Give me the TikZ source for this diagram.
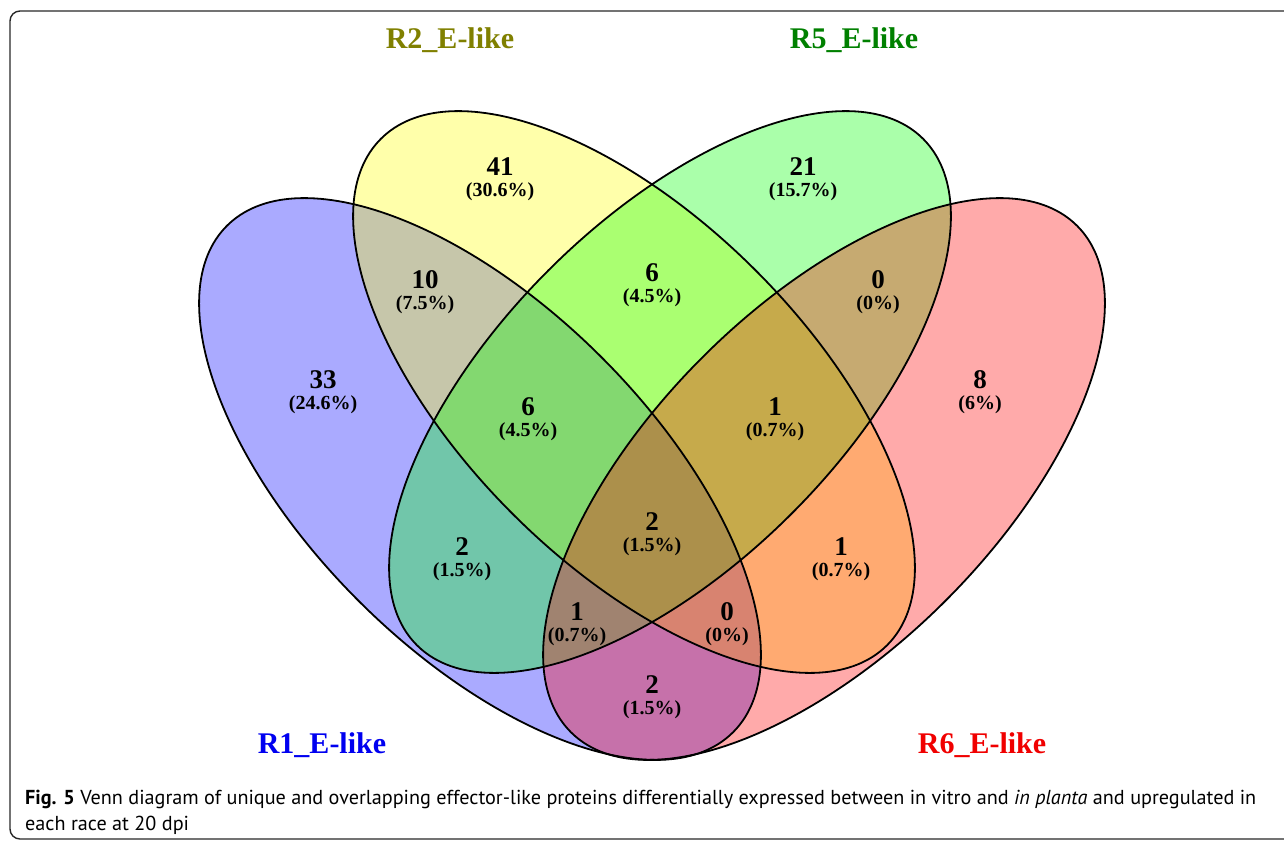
\documentclass[tikz,border=0pt]{standalone}
\usepackage{fontspec}
\setmainfont{Liberation Serif}
\newfontfamily\capfont{PT Sans}
\usepackage{xcolor}
\usetikzlibrary{positioning}

\definecolor{R1fill}{RGB}{0,0,255}
\definecolor{R2fill}{RGB}{255,255,0}
\definecolor{R5fill}{RGB}{0,255,0}
\definecolor{R6fill}{RGB}{255,0,0}
\definecolor{R1title}{RGB}{0,0,240}
\definecolor{R2title}{RGB}{128,128,0}
\definecolor{R5title}{RGB}{0,128,0}
\definecolor{R6title}{RGB}{240,0,0}
\definecolor{framegray}{RGB}{40,40,40}

\begin{document}
\begin{tikzpicture}[x=1pt,y=-1pt,
    vset/.style={fill opacity=0.333},
    vline/.style={draw=black,line width=1.8pt},
    cnt/.style={anchor=base,inner sep=0pt,font=\fontsize{27}{27}\selectfont\bfseries},
    pct/.style={anchor=base,inner sep=0pt,font=\fontsize{20}{20}\selectfont\bfseries},
    settitle/.style={anchor=base,inner sep=0pt,font=\fontsize{30}{30}\selectfont\bfseries},
    captext/.style={anchor=base west,inner sep=0pt,font=\capfont\fontsize{20.2}{26}\selectfont}]
    \useasboundingbox (0,0) rectangle (1284,841);

    % Frame
    \draw[line width=1.4pt,framegray,rounded corners=10pt] (10,11) rectangle (1320,839);

    % Sets (fills)
    \fill[R1fill,vset,rotate around={-45:(480,479)}] (480,479) ellipse [x radius=358, y radius=172];
    \fill[R2fill,vset,rotate around={-45:(634,392)}] (634,392) ellipse [x radius=358, y radius=172];
    \fill[R5fill,vset,rotate around={45:(670,392)}] (670,392) ellipse [x radius=358, y radius=172];
    \fill[R6fill,vset,rotate around={45:(824,479)}] (824,479) ellipse [x radius=358, y radius=172];

    % Sets (outlines)
    \draw[vline,rotate around={-45:(480,479)}] (480,479) ellipse [x radius=358, y radius=172];
    \draw[vline,rotate around={-45:(634,392)}] (634,392) ellipse [x radius=358, y radius=172];
    \draw[vline,rotate around={45:(670,392)}] (670,392) ellipse [x radius=358, y radius=172];
    \draw[vline,rotate around={45:(824,479)}] (824,479) ellipse [x radius=358, y radius=172];

    % Set titles
    \node[settitle,text=R2title] (tR2) at (450,48) {R2\_E-like};
    \node[settitle,text=R5title] (tR5) at (854,48) {R5\_E-like};
    \node[settitle,text=R1title] (tR1) at (322,753) {R1\_E-like};
    \node[settitle,text=R6title] (tR6) at (982,753) {R6\_E-like};

    % Counts
    \node[cnt] (c1) at (323,388) {33};
    \node[pct,below=21pt of c1.base,anchor=base] (p1) {(24.6\%)};
    \node[cnt] (c2) at (500,175) {41};
    \node[pct,below=21pt of c2.base,anchor=base] (p2) {(30.6\%)};
    \node[cnt] (c3) at (803,175) {21};
    \node[pct,below=21pt of c3.base,anchor=base] (p3) {(15.7\%)};
    \node[cnt] (c4) at (980,388) {8};
    \node[pct,below=21pt of c4.base,anchor=base] (p4) {(6\%)};
    \node[cnt] (c12) at (425,288) {10};
    \node[pct,below=21pt of c12.base,anchor=base] (p12) {(7.5\%)};
    \node[cnt] (c23) at (652,281) {6};
    \node[pct,below=21pt of c23.base,anchor=base] (p23) {(4.5\%)};
    \node[cnt] (c34) at (878,288) {0};
    \node[pct,below=21pt of c34.base,anchor=base] (p34) {(0\%)};
    \node[cnt] (c123) at (528,415) {6};
    \node[pct,below=21pt of c123.base,anchor=base] (p123) {(4.5\%)};
    \node[cnt] (c234) at (775,415) {1};
    \node[pct,below=21pt of c234.base,anchor=base] (p234) {(0.7\%)};
    \node[cnt] (c13) at (462,555) {2};
    \node[pct,below=21pt of c13.base,anchor=base] (p13) {(1.5\%)};
    \node[cnt] (c1234) at (652,530) {2};
    \node[pct,below=21pt of c1234.base,anchor=base] (p1234) {(1.5\%)};
    \node[cnt] (c24) at (841,555) {1};
    \node[pct,below=21pt of c24.base,anchor=base] (p24) {(0.7\%)};
    \node[cnt] (c134) at (577,620) {1};
    \node[pct,below=21pt of c134.base,anchor=base] (p134) {(0.7\%)};
    \node[cnt] (c124) at (727,620) {0};
    \node[pct,below=21pt of c124.base,anchor=base] (p124) {(0\%)};
    \node[cnt] (c14) at (652,693) {2};
    \node[pct,below=21pt of c14.base,anchor=base] (p14) {(1.5\%)};

    % Caption
    \node[captext] (cap1) at (25,804) {\textbf{Fig. 5} Venn diagram of unique and overlapping effector-like proteins differentially expressed between in vitro and \textit{in planta} and upregulated in};
    \node[captext] (cap2) at (25,830) {each race at 20 dpi};
\end{tikzpicture}
\end{document}
